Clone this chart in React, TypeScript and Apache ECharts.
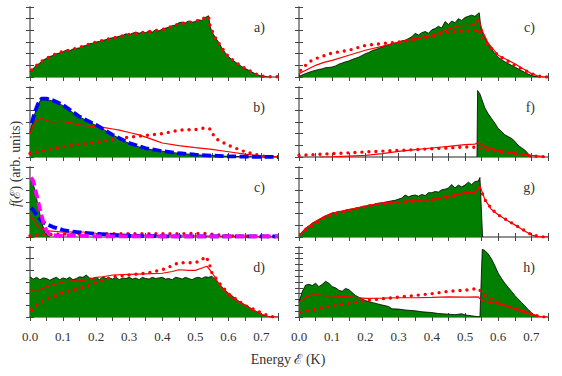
import React, { useEffect, useRef } from "react";
import * as echarts from "echarts";

type P = [number, number][];

// ---------- data (E in K, f in arbitrary units) ----------
const X_TICKS = [0, 0.1, 0.2, 0.3, 0.4, 0.5, 0.6, 0.7];
const PANEL_LABELS = ["a)", "b)", "c)", "d)", "c)", "f)", "g)", "h)"];

const A_GREEN: P = [[0,0.45],[0.01,0.75],[0.02,1.0],[0.03,1.2],[0.04,1.45],[0.05,1.6],[0.06,1.75],[0.07,1.85],[0.08,2.0],[0.09,2.05],[0.1,2.17],[0.11,2.3],[0.12,2.25],[0.13,2.4],[0.14,2.45],[0.15,2.5],[0.16,2.65],[0.17,2.7],[0.18,2.85],[0.19,2.9],[0.2,3.0],[0.21,3.05],[0.22,3.15],[0.23,3.2],[0.24,3.3],[0.25,3.37],[0.26,3.4],[0.27,3.5],[0.28,3.55],[0.29,3.7],[0.3,3.62],[0.31,3.75],[0.32,3.85],[0.33,3.75],[0.34,3.85],[0.35,3.8],[0.36,3.95],[0.37,3.85],[0.38,4.05],[0.39,3.95],[0.4,4.1],[0.41,4.2],[0.42,4.25],[0.43,4.4],[0.44,4.45],[0.45,4.65],[0.46,4.7],[0.47,4.65],[0.48,4.8],[0.49,4.7],[0.5,4.75],[0.51,4.9],[0.52,4.85],[0.53,5.1],[0.54,5.25],[0.545,4.3],[0.55,3.9],[0.56,3.4],[0.57,3.0],[0.58,2.5],[0.59,2.1],[0.6,1.74],[0.61,1.5],[0.62,1.3],[0.63,1.1],[0.64,0.9],[0.65,0.74],[0.66,0.6],[0.67,0.45],[0.68,0.3],[0.69,0.18],[0.7,0.08],[0.71,0.03],[0.72,0]];
const A_DOTS: P = [[0.005,0.6],[0.02,1.0],[0.04,1.45],[0.06,1.75],[0.08,2.0],[0.1,2.2],[0.12,2.3],[0.15,2.55],[0.2,3.0],[0.25,3.35],[0.3,3.65],[0.35,3.85],[0.4,4.05],[0.45,4.55],[0.5,4.75],[0.53,5.1],[0.54,5.2],[0.545,4.3],[0.56,3.4],[0.58,2.5],[0.6,1.75],[0.62,1.3],[0.65,0.75],[0.68,0.3],[0.7,0.08],[0.72,0.02],[0.75,0.02]];

const B_GREEN: P = [[0,2.1],[0.01,3.3],[0.02,4.2],[0.03,4.8],[0.04,5.0],[0.05,4.9],[0.06,4.85],[0.07,4.8],[0.08,4.7],[0.09,4.55],[0.1,4.4],[0.11,4.2],[0.12,4.0],[0.13,3.8],[0.14,3.6],[0.15,3.4],[0.16,3.3],[0.17,3.1],[0.18,3.0],[0.19,2.85],[0.2,2.7],[0.22,2.4],[0.24,2.05],[0.26,1.75],[0.28,1.45],[0.3,1.15],[0.32,0.95],[0.34,0.78],[0.36,0.66],[0.38,0.58],[0.4,0.5],[0.43,0.38],[0.46,0.3],[0.5,0.2],[0.55,0.12],[0.6,0.06],[0.65,0.02],[0.7,0],[0.75,0]];
const B_BLUE: P = [[0.005,2.9],[0.015,3.9],[0.025,4.6],[0.035,5.0],[0.05,5.0],[0.07,4.85],[0.1,4.45],[0.15,3.45],[0.2,2.75],[0.25,1.9],[0.3,1.2],[0.35,0.75],[0.4,0.5],[0.45,0.32],[0.5,0.2],[0.55,0.12],[0.6,0.06],[0.65,0.03],[0.7,0.01],[0.75,0]];
const B_RED: P = [[0,2.0],[0.01,2.7],[0.02,3.1],[0.03,3.3],[0.04,3.25],[0.05,3.1],[0.07,3.0],[0.09,3.05],[0.1,3.05],[0.12,2.95],[0.15,2.75],[0.18,2.65],[0.2,2.6],[0.23,2.5],[0.25,2.4],[0.27,2.3],[0.3,2.1],[0.33,1.9],[0.35,1.7],[0.38,1.4],[0.4,1.2],[0.45,0.98],[0.5,0.8],[0.55,0.65],[0.6,0.45],[0.65,0.25],[0.7,0.08],[0.75,0.02]];
const B_DOTS: P = [[0,0.3],[0.05,0.6],[0.1,0.9],[0.15,1.1],[0.2,1.25],[0.25,1.5],[0.3,1.7],[0.35,1.85],[0.4,2.0],[0.45,2.3],[0.5,2.35],[0.53,2.5],[0.545,2.4],[0.56,1.6],[0.6,1.0],[0.65,0.45],[0.7,0.1],[0.73,0]];

const C_GREEN: P = [[0,5.0],[0.005,5.0],[0.015,4.0],[0.025,2.6],[0.035,1.3],[0.045,0.4],[0.055,0.05],[0.06,0]];
const C_MAGENTA: P = [[0.003,5.1],[0.01,4.8],[0.02,3.6],[0.03,2.4],[0.04,1.3],[0.05,0.5],[0.06,0.2],[0.08,0.12],[0.1,0.1],[0.12,0.15],[0.15,0.12],[0.2,0.05],[0.3,0.05],[0.75,0.05]];
const C_BLUE: P = [[0.003,2.5],[0.01,2.3],[0.02,1.9],[0.03,1.5],[0.04,1.25],[0.05,1.1],[0.07,0.85],[0.1,0.6],[0.13,0.45],[0.15,0.4],[0.2,0.28],[0.25,0.18],[0.3,0.1],[0.4,0.06],[0.5,0.05],[0.75,0.05]];
const C_RED: P = [[0,1.9],[0.01,1.5],[0.02,1.1],[0.03,0.8],[0.05,0.55],[0.1,0.42],[0.15,0.45],[0.2,0.32],[0.3,0.18],[0.4,0.12],[0.5,0.1],[0.6,0.05],[0.75,0.02]];
const C_DOTS: P = [[0,0.1],[0.02,0.15],[0.05,0.2],[0.1,0.25],[0.2,0.27],[0.3,0.28],[0.4,0.28],[0.5,0.3],[0.54,0.3],[0.56,0.2],[0.6,0.1],[0.7,0.03],[0.75,0.02]];

const D_GREEN: P = [[0,3.45],[0.01,3.25],[0.02,3.4],[0.03,3.2],[0.04,3.35],[0.05,3.3],[0.06,3.15],[0.07,3.3],[0.08,3.4],[0.09,3.2],[0.1,3.35],[0.11,3.25],[0.12,3.4],[0.13,3.2],[0.14,3.3],[0.15,3.45],[0.16,3.4],[0.17,3.6],[0.18,3.35],[0.19,3.3],[0.2,3.4],[0.21,3.2],[0.22,3.45],[0.23,3.3],[0.24,3.35],[0.25,3.25],[0.26,3.4],[0.27,3.2],[0.28,3.35],[0.29,3.3],[0.3,3.4],[0.31,3.25],[0.32,3.35],[0.33,3.2],[0.34,3.4],[0.35,3.3],[0.36,3.25],[0.37,3.4],[0.38,3.3],[0.39,3.35],[0.4,3.4],[0.41,3.25],[0.42,3.3],[0.43,3.2],[0.44,3.4],[0.45,3.35],[0.46,3.25],[0.47,3.4],[0.48,3.3],[0.49,3.2],[0.5,3.35],[0.51,3.4],[0.52,3.3],[0.53,3.45],[0.54,3.4],[0.55,3.5],[0.56,3.2],[0.57,2.9],[0.58,2.6],[0.59,2.3],[0.6,2.05],[0.61,1.85],[0.62,1.6],[0.63,1.4],[0.64,1.2],[0.65,1.06],[0.66,0.9],[0.67,0.7],[0.68,0.53],[0.69,0.4],[0.7,0.24],[0.71,0.12],[0.72,0.05],[0.73,0]];
const D_RED: P = [[0,2.3],[0.03,2.35],[0.05,2.6],[0.08,2.85],[0.1,3.0],[0.13,3.1],[0.15,3.1],[0.18,3.25],[0.2,3.4],[0.22,3.45],[0.25,3.6],[0.3,3.65],[0.35,3.7],[0.4,3.75],[0.43,3.9],[0.45,4.05],[0.48,4.0],[0.5,4.0],[0.52,4.2],[0.535,4.35],[0.545,4.0],[0.555,3.6],[0.57,2.9],[0.6,1.85],[0.625,1.4],[0.65,1.0],[0.675,0.6],[0.7,0.24],[0.72,0.03],[0.75,0]];
const D_DOTS: P = [[0.005,0.6],[0.03,1.25],[0.05,1.55],[0.08,1.85],[0.1,2.1],[0.15,2.45],[0.2,2.95],[0.25,3.45],[0.3,3.6],[0.35,3.75],[0.4,4.05],[0.43,4.4],[0.45,4.65],[0.5,4.65],[0.52,4.9],[0.53,5.2],[0.54,4.8],[0.55,3.8],[0.57,3.0],[0.6,2.0],[0.65,1.0],[0.7,0.35],[0.73,0.02],[0.75,0]];

const CR_GREEN: P = [[0,0.06],[0.02,0.3],[0.04,0.5],[0.05,0.57],[0.06,0.65],[0.07,0.7],[0.08,0.8],[0.09,0.82],[0.1,0.86],[0.11,0.95],[0.12,1.1],[0.13,1.2],[0.14,1.3],[0.15,1.37],[0.16,1.5],[0.17,1.6],[0.18,1.7],[0.19,1.85],[0.2,2.0],[0.21,2.1],[0.22,2.25],[0.23,2.35],[0.24,2.45],[0.25,2.57],[0.26,2.65],[0.27,2.75],[0.28,2.85],[0.29,2.9],[0.3,3.0],[0.31,3.1],[0.32,3.15],[0.33,3.3],[0.34,3.45],[0.35,3.75],[0.36,3.6],[0.37,3.8],[0.38,3.9],[0.39,3.75],[0.4,4.05],[0.41,4.15],[0.42,4.35],[0.43,4.2],[0.44,4.75],[0.45,4.5],[0.46,4.8],[0.47,4.65],[0.48,5.0],[0.49,4.85],[0.5,5.1],[0.51,5.2],[0.52,5.3],[0.53,5.2],[0.54,5.45],[0.543,5.5],[0.548,4.2],[0.555,3.6],[0.57,2.9],[0.58,2.4],[0.59,2.0],[0.6,1.7],[0.61,1.5],[0.62,1.3],[0.63,1.15],[0.64,1.0],[0.65,0.86],[0.66,0.7],[0.67,0.55],[0.68,0.4],[0.69,0.25],[0.7,0.14],[0.71,0.06],[0.72,0]];
const CR_RED: P = [[0,0.29],[0.025,0.65],[0.05,1.0],[0.075,1.25],[0.1,1.43],[0.15,1.86],[0.2,2.29],[0.25,2.63],[0.3,3.0],[0.35,3.29],[0.4,3.57],[0.425,3.8],[0.45,4.1],[0.475,4.35],[0.5,4.43],[0.52,4.45],[0.53,4.55],[0.54,5.0],[0.545,4.6],[0.555,3.8],[0.57,2.9],[0.6,1.86],[0.625,1.5],[0.65,1.14],[0.675,0.7],[0.7,0.29],[0.72,0.08],[0.74,0],[0.75,0]];
const CR_DOTS: P = [[0.005,0.57],[0.03,1.29],[0.05,1.57],[0.1,2.06],[0.15,2.29],[0.2,2.71],[0.25,2.86],[0.3,3.0],[0.35,3.2],[0.4,3.49],[0.45,3.86],[0.5,3.94],[0.535,4.0],[0.54,4.14],[0.55,3.43],[0.57,2.71],[0.6,1.86],[0.65,1.0],[0.7,0.29],[0.73,0.02],[0.75,0]];

const F_GREEN: P = [[0.536,0],[0.538,5.7],[0.545,5.4],[0.55,5.0],[0.56,4.2],[0.57,3.7],[0.58,3.3],[0.59,2.9],[0.6,2.45],[0.61,2.2],[0.62,1.9],[0.63,1.75],[0.64,1.6],[0.65,1.35],[0.66,1.0],[0.67,0.8],[0.68,0.6],[0.69,0.3],[0.695,0.1],[0.7,0]];
const F_RED: P = [[0.063,0],[0.1,0.02],[0.15,0.08],[0.2,0.14],[0.25,0.29],[0.3,0.49],[0.35,0.63],[0.4,0.77],[0.45,0.91],[0.5,1.06],[0.53,1.1],[0.54,1.23],[0.56,0.91],[0.6,0.57],[0.65,0.34],[0.7,0.14],[0.74,0.03]];
const F_DOTS: P = [[0,0.14],[0.1,0.29],[0.2,0.43],[0.3,0.57],[0.35,0.63],[0.4,0.71],[0.45,0.77],[0.5,0.86],[0.53,0.83],[0.55,0.71],[0.6,0.49],[0.65,0.29],[0.7,0.09],[0.74,0.02]];

const G_GREEN: P = [[0,0.17],[0.01,0.45],[0.02,0.75],[0.03,0.95],[0.04,1.2],[0.05,1.35],[0.06,1.5],[0.07,1.6],[0.08,1.8],[0.09,1.9],[0.1,2.06],[0.11,2.1],[0.12,2.2],[0.13,2.15],[0.14,2.3],[0.15,2.35],[0.16,2.4],[0.17,2.45],[0.18,2.5],[0.19,2.6],[0.2,2.64],[0.21,2.75],[0.22,2.7],[0.23,2.85],[0.24,2.9],[0.25,2.93],[0.26,3.0],[0.27,3.05],[0.28,3.1],[0.29,3.15],[0.3,3.25],[0.31,3.35],[0.32,3.6],[0.33,3.45],[0.34,3.55],[0.35,3.6],[0.36,3.5],[0.37,3.65],[0.38,3.55],[0.39,3.8],[0.4,3.8],[0.41,3.9],[0.42,3.85],[0.43,4.05],[0.44,4.1],[0.45,4.2],[0.46,4.5],[0.47,4.2],[0.48,4.45],[0.49,4.3],[0.5,4.45],[0.51,4.7],[0.52,4.5],[0.53,4.75],[0.54,4.8],[0.545,5.1],[0.553,0]];
const G_RED: P = [[0,0.09],[0.02,0.75],[0.05,1.33],[0.075,1.75],[0.1,2.06],[0.15,2.35],[0.2,2.64],[0.25,2.93],[0.3,3.0],[0.35,3.16],[0.4,3.2],[0.45,3.5],[0.5,3.8],[0.53,3.8],[0.545,4.38],[0.56,3.2],[0.58,2.35],[0.6,1.9],[0.625,1.45],[0.65,1.04],[0.675,0.6],[0.7,0.17],[0.72,0.03],[0.75,0]];
const G_DOTS: P = [[0.005,0.2],[0.025,0.75],[0.05,1.2],[0.075,1.6],[0.1,1.95],[0.15,2.25],[0.2,2.6],[0.25,2.85],[0.3,2.95],[0.35,3.1],[0.4,3.15],[0.45,3.4],[0.5,3.75],[0.53,3.8],[0.545,4.2],[0.56,3.2],[0.58,2.4],[0.6,1.9],[0.65,1.05],[0.7,0.2],[0.73,0.02],[0.75,0]];

const H_GREEN: P = [[0,1.26],[0.01,2.2],[0.02,2.74],[0.03,2.8],[0.04,2.7],[0.05,2.9],[0.06,2.6],[0.07,2.8],[0.08,3.06],[0.09,2.9],[0.1,2.6],[0.11,2.5],[0.12,2.3],[0.13,2.2],[0.14,2.45],[0.15,2.35],[0.16,2.1],[0.17,1.85],[0.18,1.7],[0.19,1.55],[0.2,1.41],[0.22,1.25],[0.24,1.1],[0.25,1.03],[0.27,0.9],[0.28,0.7],[0.3,0.68],[0.32,0.6],[0.35,0.53],[0.37,0.45],[0.4,0.38],[0.42,0.3],[0.45,0.24],[0.47,0.2],[0.49,0.28],[0.5,0.18],[0.52,0.1],[0.54,0.02],[0.545,0.02],[0.552,5.8],[0.56,5.7],[0.57,5.4],[0.58,4.97],[0.59,4.4],[0.6,3.76],[0.61,3.3],[0.62,2.9],[0.63,2.55],[0.64,2.2],[0.65,1.85],[0.66,1.55],[0.67,1.25],[0.68,0.97],[0.69,0.65],[0.7,0.38],[0.71,0.15],[0.72,0]];
const H_RED: P = [[0,1.26],[0.02,1.7],[0.04,1.9],[0.06,1.9],[0.08,1.8],[0.1,1.8],[0.15,1.72],[0.2,1.6],[0.25,1.62],[0.3,1.65],[0.35,1.65],[0.4,1.68],[0.45,1.72],[0.5,1.7],[0.54,1.72],[0.55,1.4],[0.6,1.12],[0.65,0.74],[0.7,0.24],[0.73,0.02],[0.75,0]];
const H_DOTS: P = [[0.005,0.38],[0.05,0.68],[0.1,0.97],[0.15,1.18],[0.2,1.41],[0.25,1.56],[0.3,1.7],[0.35,1.85],[0.4,2.0],[0.45,2.2],[0.5,2.3],[0.54,2.44],[0.56,1.85],[0.6,1.26],[0.65,0.74],[0.7,0.24],[0.73,0.02],[0.75,0]];

// ---------- layout ----------
const COL_LEFT = [30, 299];
const COL_WIDTH = [248, 249];
const ROW_TOP = [7, 87, 167, 247];
const ROW_HEIGHT = 70;
const FONT = "Liberation Serif";
const TEXT_COLOR = "#333";

interface Panel {
  col: number; row: number; label: string; yInterval: number;
  green?: P; red?: P; dots?: P; blue?: P; magenta?: P;
}

const PANELS: Panel[] = [
  { col: 0, row: 0, label: PANEL_LABELS[0], yInterval: 1, green: A_GREEN, dots: A_DOTS },
  { col: 0, row: 1, label: PANEL_LABELS[1], yInterval: 1, green: B_GREEN, red: B_RED, dots: B_DOTS, blue: B_BLUE },
  { col: 0, row: 2, label: PANEL_LABELS[2], yInterval: 1, green: C_GREEN, red: C_RED, dots: C_DOTS, blue: C_BLUE, magenta: C_MAGENTA },
  { col: 0, row: 3, label: PANEL_LABELS[3], yInterval: 1, green: D_GREEN, red: D_RED, dots: D_DOTS },
  { col: 1, row: 0, label: PANEL_LABELS[4], yInterval: 1, green: CR_GREEN, red: CR_RED, dots: CR_DOTS },
  { col: 1, row: 1, label: PANEL_LABELS[5], yInterval: 1, green: F_GREEN, red: F_RED, dots: F_DOTS },
  { col: 1, row: 2, label: PANEL_LABELS[6], yInterval: 1, green: G_GREEN, red: G_RED, dots: G_DOTS },
  { col: 1, row: 3, label: PANEL_LABELS[7], yInterval: 0.5, green: H_GREEN, red: H_RED, dots: H_DOTS },
];

function buildOption() {
  const grid: any[] = [];
  const xAxis: any[] = [];
  const yAxis: any[] = [];
  const series: any[] = [];
  const graphic: any[] = [];
  const frame = { show: true, lineStyle: { color: "#8a8a8a", width: 1.5 } };
  const tick = { show: true, inside: true, length: 4, lineStyle: { color: "#444", width: 1 } };

  PANELS.forEach((p, i) => {
    grid.push({ left: COL_LEFT[p.col], top: ROW_TOP[p.row], width: COL_WIDTH[p.col], height: ROW_HEIGHT });
    const showLabels = p.row === 3;
    xAxis.push({
      type: "value", gridIndex: i, min: 0, max: 0.75, interval: 0.05, position: "bottom",
      axisLine: frame, axisTick: tick, splitLine: { show: false },
      axisLabel: {
        show: showLabels, fontFamily: FONT, fontSize: 13, color: TEXT_COLOR, margin: 13,
        formatter: (v: number) => {
          const k = Math.round(v * 100);
          return X_TICKS.some((t) => Math.round(t * 100) === k) ? (k / 100).toFixed(1) : "";
        },
      },
    });
    xAxis.push({
      type: "value", gridIndex: i, min: 0, max: 0.75, interval: 0.05, position: "top",
      axisLine: frame, axisTick: tick, splitLine: { show: false }, axisLabel: { show: false },
    });
    yAxis.push({
      type: "value", gridIndex: i, min: 0, max: 6, interval: p.yInterval, position: "left",
      axisLine: frame, axisTick: tick, splitLine: { show: false }, axisLabel: { show: false },
    });
    yAxis.push({
      type: "value", gridIndex: i, min: 0, max: 6, interval: p.yInterval, position: "right",
      axisLine: frame, axisTick: tick, splitLine: { show: false }, axisLabel: { show: false },
    });
    const base = { type: "line", xAxisIndex: 2 * i, yAxisIndex: 2 * i, symbol: "none", showSymbol: false, silent: true, smooth: false };
    if (p.green) series.push({ ...base, data: p.green, z: 1, lineStyle: { color: "#000", width: 0.8 }, areaStyle: { color: "#007f00", opacity: 1 } });
    if (p.red) series.push({ ...base, data: p.red, z: 3, lineStyle: { color: "#ff0000", width: 1.2 } });
    if (p.dots) series.push({ ...base, data: p.dots, z: 4, lineStyle: { color: "#ff0000", width: 3.4, type: [0, 7], cap: "round" } });
    if (p.blue) series.push({ ...base, data: p.blue, z: 5, lineStyle: { color: "#0000ff", width: 3.8, type: [9, 3.5] } });
    if (p.magenta) series.push({ ...base, data: p.magenta, z: 6, lineStyle: { color: "#ff00ff", width: 3.8, type: [9, 4] } });
    graphic.push({
      type: "text",
      x: COL_LEFT[p.col] + COL_WIDTH[p.col] - 13, y: ROW_TOP[p.row] + 20,
      style: { text: p.label, fontFamily: FONT, fontSize: 14, fill: TEXT_COLOR, align: "right", verticalAlign: "middle" },
    });
  });

  graphic.push({
    type: "text", x: 15, y: 164, rotation: Math.PI / 2,
    style: {
      text: "{i|f}(ℰ) (arb. units)", fontFamily: FONT, fontSize: 14, fill: TEXT_COLOR, align: "center", verticalAlign: "middle",
      rich: { i: { fontStyle: "italic", fontFamily: FONT, fontSize: 14, fill: TEXT_COLOR } },
    },
  });
  graphic.push({
    type: "text", x: 288, y: 359,
    style: { text: "Energy ℰ (K)", fontFamily: FONT, fontSize: 14, fill: TEXT_COLOR, align: "center", verticalAlign: "middle" },
  });

  return { animation: false, backgroundColor: "#fff", grid, xAxis, yAxis, series, graphic };
}

export default function App() {
  const ref = useRef<HTMLDivElement>(null);
  useEffect(() => {
    if (!ref.current) return;
    const chart = echarts.init(ref.current, undefined, { renderer: "svg" });
    chart.setOption(buildOption() as any);
    return () => chart.dispose();
  }, []);
  return <div ref={ref} style={{ position: "absolute", left: 0, top: 0, width: 562, height: 376 }} />;
}
